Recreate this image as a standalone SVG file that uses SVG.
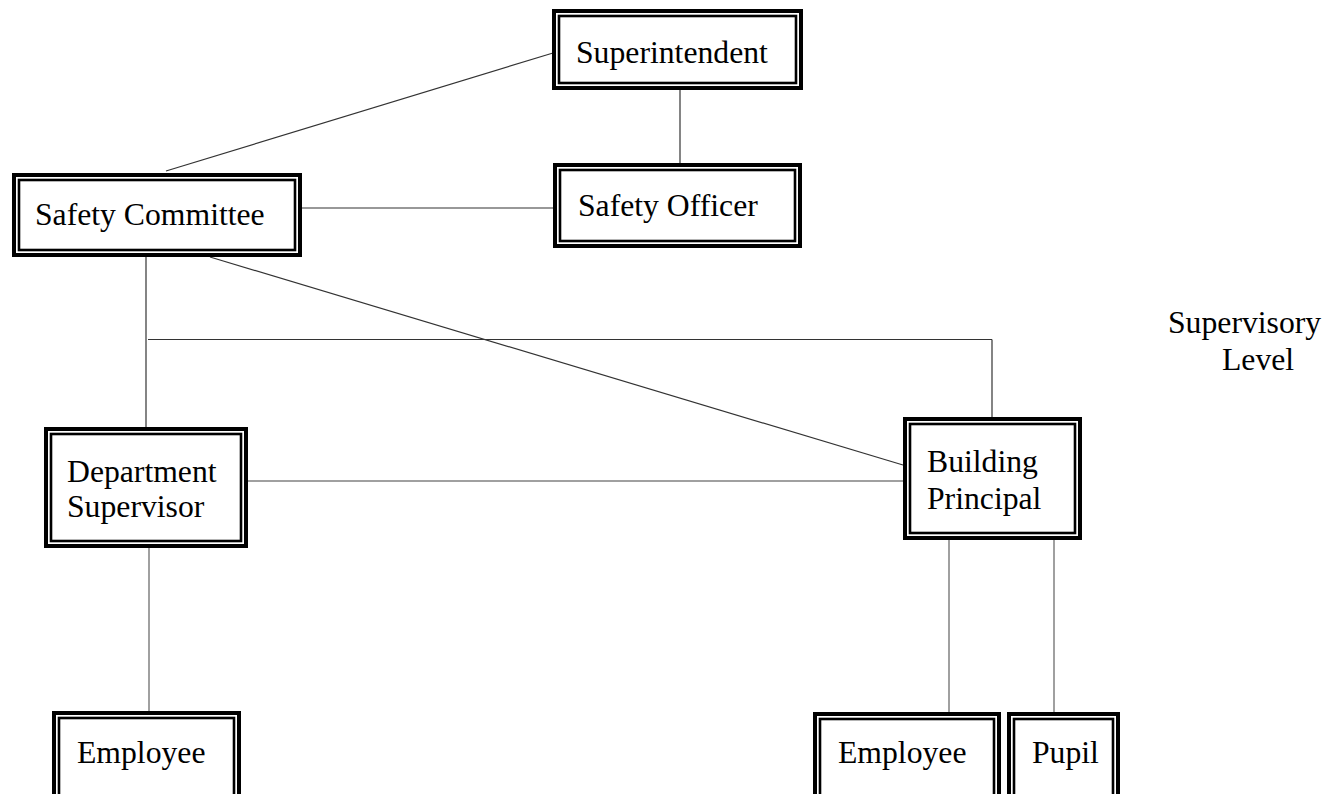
<svg xmlns="http://www.w3.org/2000/svg" width="1335" height="794" viewBox="0 0 1335 794">
<style>
.o{fill:#fff;stroke:#000;stroke-width:4}
.i{fill:none;stroke:#000;stroke-width:2.6}
.t{font-family:"Liberation Serif","Times New Roman",serif;font-size:31.7px;fill:#000}
.c line{stroke:#333;stroke-width:1.2}
.c line.g{stroke:#808080;stroke-width:1.5}
</style>
<rect width="1335" height="794" fill="#fff"/>
<g class="c" id="connectors">
<line x1="553" y1="53" x2="166" y2="171"/>
<line x1="680" y1="90" x2="680" y2="163"/>
<line x1="302" y1="208" x2="553" y2="208"/>
<line x1="146" y1="257" x2="146" y2="427"/>
<line x1="148" y1="339.5" x2="992" y2="339.5"/>
<line x1="992" y1="339.5" x2="992" y2="417"/>
<line x1="210" y1="257" x2="903" y2="465"/>
<line class="g" x1="248" y1="481" x2="903" y2="481"/>
<line class="g" x1="149" y1="548" x2="149" y2="711"/>
<line class="g" x1="949" y1="540" x2="949" y2="712"/>
<line class="g" x1="1054" y1="540" x2="1054" y2="712"/>
</g>
<g id="superintendent">
<rect class="o" x="554" y="11" width="247" height="77"/>
<rect class="i" x="559" y="16" width="237" height="67"/>
<text class="t" x="576" y="63">Superintendent</text>
</g>
<g id="safety-committee">
<rect class="o" x="14" y="175" width="286" height="80"/>
<rect class="i" x="19" y="180" width="276" height="70"/>
<text class="t" x="35" y="225">Safety Committee</text>
</g>
<g id="safety-officer">
<rect class="o" x="555" y="165" width="245" height="81"/>
<rect class="i" x="560" y="170" width="235" height="71"/>
<text class="t" x="578" y="216">Safety Officer</text>
</g>
<g id="department-supervisor">
<rect class="o" x="46" y="429" width="200" height="117"/>
<rect class="i" x="51" y="434" width="190" height="107"/>
<text class="t" x="67" y="482">Department</text>
<text class="t" x="67" y="517">Supervisor</text>
</g>
<g id="building-principal">
<rect class="o" x="905" y="419" width="175" height="119"/>
<rect class="i" x="910" y="424" width="165" height="109"/>
<text class="t" x="927" y="472">Building</text>
<text class="t" x="927" y="509">Principal</text>
</g>
<g id="employee-1">
<rect class="o" x="54" y="713" width="185" height="90"/>
<rect class="i" x="59" y="718" width="175" height="90"/>
<text class="t" x="77" y="763">Employee</text>
</g>
<g id="employee-2">
<rect class="o" x="815" y="714" width="184" height="90"/>
<rect class="i" x="820" y="719" width="174" height="90"/>
<text class="t" x="838" y="763">Employee</text>
</g>
<g id="pupil">
<rect class="o" x="1009" y="714" width="109" height="90"/>
<rect class="i" x="1014" y="719" width="99" height="90"/>
<text class="t" x="1032" y="763">Pupil</text>
</g>
<g id="supervisory-level">
<text class="t" x="1168" y="333">Supervisory</text>
<text class="t" x="1222" y="370">Level</text>
</g>
</svg>
